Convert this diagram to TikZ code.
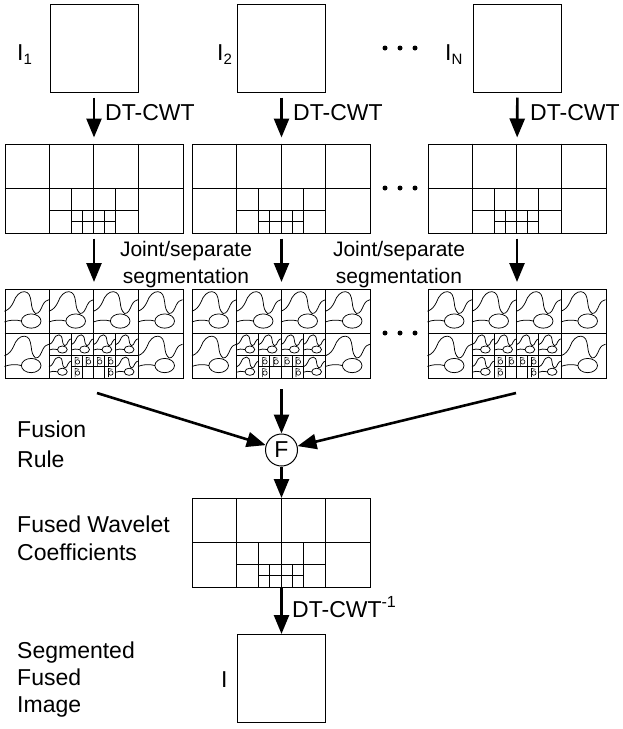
\documentclass[tikz,border=0pt]{standalone}
\usepackage{fontspec}
\setmainfont{Liberation Sans}
\usetikzlibrary{arrows.meta,calc}
\tikzset{
 txt/.style={inner sep=0pt, font=\fontsize{23}{28}\selectfont},
 jtxt/.style={inner sep=0pt, font=\fontsize{21}{26}\selectfont},
 imgbox/.style={draw, line width=1pt, minimum width=88pt, minimum height=88pt, inner sep=0pt},
 gridbox/.style={draw, line width=1pt, minimum width=178pt, minimum height=89pt, inner sep=0pt},
 gline/.style={line width=0.9pt},
 bline/.style={line width=0.75pt},
 tline/.style={line width=0.6pt},
 arr/.style={line width=2.6pt, -{Triangle[length=19pt,width=15pt]}},
 fcirc/.style={draw, circle, line width=1pt, minimum size=32pt, inner sep=0pt, font=\fontsize{23}{28}\selectfont},
 edot/.style={circle, fill, inner sep=0pt, minimum size=5pt},
 blob/.pic={
  \draw[bline] (0,0.5) .. controls (0.1,0.46) and (0.15,0.4) .. (0.2,0.3)
     .. controls (0.25,0.15) and (0.35,0.05) .. (0.45,0.06)
     .. controls (0.55,0.07) and (0.58,0.15) .. (0.6,0.3)
     .. controls (0.61,0.4) and (0.63,0.5) .. (0.7,0.55)
     .. controls (0.78,0.56) and (0.82,0.45) .. (0.86,0.36)
     .. controls (0.9,0.28) and (0.95,0.25) .. (1,0.24);
  \draw[bline] (0,0.74) .. controls (0.1,0.7) and (0.25,0.68) .. (0.38,0.72);
  \draw[bline] (0.6,0.72) ellipse [x radius=0.22, y radius=0.16];
 },
 tinyblob/.pic={
  \draw[tline] (0.35,0.12) -- (0.35,0.92) (0.35,0.14) -- (0.7,0.22);
  \draw[tline] (0.56,0.55) circle [radius=0.2];
 }
}
\newcommand\gridlines[1]{%
 \begin{scope}[shift={(#1.north west)},x=44.5pt,y=-44.5pt]
  \draw[gline] (0,1)--(4,1) (1,0)--(1,2) (2,0)--(2,2) (3,0)--(3,2)
   (1,1.5)--(3,1.5) (1.5,1)--(1.5,2) (2.5,1)--(2.5,2)
   (1.5,1.75)--(2.5,1.75) (1.75,1.5)--(1.75,2) (2.25,1.5)--(2.25,2);
 \end{scope}}
\newcommand\segblobs[1]{%
 \begin{scope}[shift={(#1.north west)},x=44.5pt,y=-44.5pt]
  \foreach \a/\b in {0/0,1/0,2/0,3/0,0/1,3/1} \pic at (\a,\b) {blob};
  \foreach \a/\b in {1/1,1.5/1,2/1,2.5/1,1/1.5,2.5/1.5} \pic[scale=0.5] at (\a,\b) {blob};
  \foreach \a/\b in {1.5/1.5,1.75/1.5,2/1.5,2.25/1.5,1.5/1.75,2.25/1.75} \pic[scale=0.25] at (\a,\b) {tinyblob};
 \end{scope}}
\newcommand\Ilab[1]{I\raisebox{-4pt}{\fontsize{15}{15}\selectfont #1}}
\begin{document}
\begin{tikzpicture}[x=1pt,y=-1pt]
\useasboundingbox (0,0) rectangle (623,729);
% input images
\node[imgbox] (i1) at (94,48) {};
\node[imgbox] (i2) at (281.5,48) {};
\node[imgbox] (iN) at (517.5,48) {};
\node[txt, anchor=base west] (l1) at (17,60) {\Ilab{1}};
\node[txt, anchor=base west] (l2) at (217,60) {\Ilab{2}};
\node[txt, anchor=base west] (lN) at (445,60) {\Ilab{N}};
\node[edot] (a1) at (385,48) {}; \node[edot] (a2) at (400,48) {}; \node[edot] (a3) at (415,48) {};
% wavelet grids
\node[gridbox] (g1) at (94,188.5) {};
\node[gridbox] (g2) at (281.5,188.5) {};
\node[gridbox] (g3) at (517,188.5) {};
\gridlines{g1}\gridlines{g2}\gridlines{g3}
\node[edot] (b1) at (385,188) {}; \node[edot] (b2) at (400,188) {}; \node[edot] (b3) at (415,188) {};
% segmented grids
\node[gridbox] (s1) at (94,334) {};
\node[gridbox] (s2) at (281.5,334) {};
\node[gridbox] (s3) at (517,334) {};
\gridlines{s1}\gridlines{s2}\gridlines{s3}
\segblobs{s1}\segblobs{s2}\segblobs{s3}
\node[edot] (c1) at (385,333) {}; \node[edot] (c2) at (400,333) {}; \node[edot] (c3) at (415,333) {};
% arrows top
\draw[arr, shorten <=5pt, shorten >=6pt] (i1) -- (g1);
\draw[arr, shorten <=5pt, shorten >=6pt] (i2) -- (g2);
\draw[arr, shorten <=5pt, shorten >=6pt] (iN) -- (g3);
\node[txt, anchor=base west] (t1) at (105,120) {DT-CWT};
\node[txt, anchor=base west] (t2) at (293,120) {DT-CWT};
\node[txt, anchor=base west] (t3) at (530,120) {DT-CWT};
% arrows row 2 -> 3
\draw[arr, shorten <=5pt, shorten >=7pt] (g1) -- (s1);
\draw[arr, shorten <=5pt, shorten >=7pt] (g2) -- (s2);
\draw[arr, shorten <=5pt, shorten >=7pt] (g3) -- (s3);
\node[jtxt, anchor=base] (j1a) at (186,256) {Joint/separate};
\node[jtxt, anchor=base] (j1b) at (186,283) {segmentation};
\node[jtxt, anchor=base] (j2a) at (399,256) {Joint/separate};
\node[jtxt, anchor=base] (j2b) at (399,283) {segmentation};
% fusion
\node[fcirc] (F) at (281.5,450) {F};
\coordinate (fl) at (97,393);
\coordinate (fr) at (516,393);
\draw[arr] (fl) -- (F);
\draw[arr] (fr) -- (F);
\draw[arr, shorten <=10pt] (s2) -- (F);
\node[txt, anchor=base west] (fu1) at (17,437) {Fusion};
\node[txt, anchor=base west] (fu2) at (17,467) {Rule};
% fused coefficients
\node[gridbox] (fz) at (281.5,543) {};
\gridlines{fz}
\draw[arr] (F) -- (fz);
\node[txt, anchor=base west] (fw1) at (17,532) {Fused Wavelet};
\node[txt, anchor=base west] (fw2) at (17,560) {Coefficients};
% final image
\node[imgbox] (fin) at (281.5,678.5) {};
\draw[arr] (fz) -- (fin);
\node[txt, anchor=base west] (inv) at (292,617) {DT-CWT\textsuperscript{-1}};
\node[txt, anchor=base west] (lf) at (221,687) {I};
\node[txt, anchor=base west] (sf1) at (17,658) {Segmented};
\node[txt, anchor=base west] (sf2) at (17,685) {Fused};
\node[txt, anchor=base west] (sf3) at (17,712) {Image};
\end{tikzpicture}
\end{document}
